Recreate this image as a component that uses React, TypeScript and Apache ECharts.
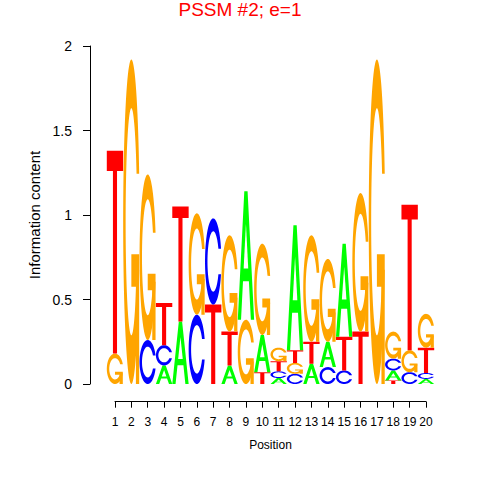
import React, { useEffect, useRef } from "react";
import * as echarts from "echarts";

const positions = ["1","2","3","4","5","6","7","8","9","10","11","12","13","14","15","16","17","18","19","20"];
const yTicks = ["0", "0.5", "1", "1.5", "2"];
const letters = ["A", "C", "G", "T"];
const letterColors = ["#00FF00", "#0000FF", "#FFA500", "#FF0000"];
const heightA = [0, 0, 0, 0.11, 0.37, 0, 0, 0.11, 0.76, 0.22, 0.035, 0.74, 0.12, 0.15, 0.55, 0, 0, 0.06, 0, 0.03];
const heightC = [0, 0, 0.26, 0.12, 0, 0.41, 0.51, 0, 0, 0, 0.04, 0.06, 0, 0.1, 0.08, 0, 0, 0.07, 0.07, 0.035];
const heightG = [0.18, 1.92, 0.98, 0, 0, 0.6, 0, 0.57, 0.38, 0.54, 0.08, 0.065, 0.63, 0.49, 0, 0.82, 1.92, 0.16, 0.13, 0.2];
const heightT = [1.2, 0, 0, 0.25, 0.68, 0, 0.47, 0.2, 0, 0.07, 0.06, 0.075, 0.13, 0, 0.2, 0.31, 0, 0.02, 0.86, 0.15];

const FONT = "'Liberation Sans', Arial, Helvetica, sans-serif";

function buildStacks() {
  const rows: number[][] = [];
  const all = [heightA, heightC, heightG, heightT];
  for (let i = 0; i < positions.length; i++) {
    const items = letters
      .map((_, li) => ({ li, h: all[li][i] }))
      .filter((d) => d.h > 0)
      .sort((a, b) => a.h - b.h);
    let base = 0;
    for (const it of items) {
      rows.push([Number(positions[i]), base, base + it.h, it.li]);
      base += it.h;
    }
  }
  return rows;
}

function arcPts(r: number, a0: number, a1: number, n: number) {
  const pts: number[][] = [];
  for (let k = 0; k <= n; k++) {
    const a = a0 + ((a1 - a0) * k) / n;
    pts.push([0.5 + r * Math.cos(a), 0.5 + r * Math.sin(a)]);
  }
  return pts;
}

function cShape() {
  const outer = arcPts(0.5, 0.3, 2 * Math.PI - 0.3, 80);
  const phi = Math.asin(0.148 / 0.35);
  const inner = arcPts(0.35, 2 * Math.PI - phi, phi, 80);
  return outer.concat(inner);
}

const shapes: Record<string, { fill: number[][][]; holes: number[][][] }> = {
  A: {
    fill: [[[0, 1], [0.4, 0], [0.6, 0], [1, 1], [0.8, 1], [0.68, 0.7], [0.32, 0.7], [0.2, 1]]],
    holes: [[[0.36, 0.6], [0.5, 0.25], [0.64, 0.6]]],
  },
  C: { fill: [cShape()], holes: [] },
  G: {
    fill: [cShape(), [[0.978, 0.6], [0.5, 0.6], [0.5, 0.7], [0.778, 0.7], [0.778, 1], [0.978, 1]]],
    holes: [],
  },
  T: {
    fill: [[[0, 0], [1, 0], [1, 0.1], [0.625, 0.1], [0.625, 1], [0.375, 1], [0.375, 0.1], [0, 0.1]]],
    holes: [],
  },
};

export default function App() {
  const ref = useRef<HTMLDivElement>(null);
  useEffect(() => {
    if (!ref.current) return;
    const chart = echarts.init(ref.current, undefined, { renderer: "svg" });
    const data = buildStacks();
    const option: any = {
      animation: false,
      backgroundColor: "#ffffff",
      title: {
        text: "PSSM #2; e=1",
        left: "center",
        top: 0,
        padding: 0,
        textStyle: { color: "#FF0000", fontSize: 19, fontWeight: "normal", fontFamily: FONT },
      },
      grid: [
        { left: 106.8, right: 45.8, top: 46, bottom: 96 },
        { left: 115, right: 54, top: 46, bottom: 78.3 },
      ],
      xAxis: [
        { gridIndex: 0, type: "value", min: 0.5, max: 20.5, show: false },
        {
          gridIndex: 1,
          type: "value",
          min: 1,
          max: 20,
          interval: 1,
          axisLine: { show: true, lineStyle: { color: "#000", width: 1 } },
          axisTick: { show: true, length: 6, lineStyle: { color: "#000" } },
          axisLabel: {
            fontSize: 12,
            margin: 14,
            color: "#000",
            fontFamily: FONT,
            formatter: (v: number) => positions[Math.round(v) - 1] ?? "",
          },
          splitLine: { show: false },
          name: "Position",
          nameLocation: "middle",
          nameGap: 37,
          nameTextStyle: { fontSize: 12, color: "#000", fontFamily: FONT },
        },
      ],
      yAxis: [
        {
          gridIndex: 0,
          type: "value",
          min: 0,
          max: 2,
          interval: 0.5,
          offset: 16.8,
          axisLine: { show: true, lineStyle: { color: "#000", width: 1 } },
          axisTick: { show: true, length: 7, lineStyle: { color: "#000" } },
          axisLabel: {
            fontSize: 14,
            margin: 18,
            color: "#000",
            fontFamily: FONT,
            formatter: (v: number) => yTicks[Math.round(v * 2)] ?? "",
          },
          splitLine: { show: false },
          name: "Information content",
          nameLocation: "middle",
          nameRotate: 90,
          nameGap: 46,
          nameTextStyle: { fontSize: 15, color: "#000", fontFamily: FONT },
        },
        { gridIndex: 1, type: "value", min: 0, max: 1, show: false },
      ],
      series: [
        {
          type: "custom",
          xAxisIndex: 0,
          yAxisIndex: 0,
          clip: false,
          silent: true,
          encode: { x: 0, y: [1, 2] },
          data,
          renderItem: (params: any, api: any) => {
            const x = api.value(0);
            const y0 = api.value(1);
            const y1 = api.value(2);
            const li = api.value(3);
            const p0 = api.coord([x - 0.5, y0]);
            const p1 = api.coord([x + 0.5, y1]);
            const left = p0[0];
            const w = p1[0] - p0[0];
            const top = p1[1];
            const h = p0[1] - p1[1];
            const map = (pts: number[][]) => pts.map(([u, v]) => [left + u * w, top + v * h]);
            const shp = shapes[letters[li]];
            const children: any[] = [];
            shp.fill.forEach((pts) =>
              children.push({ type: "polygon", shape: { points: map(pts) }, style: { fill: letterColors[li] } })
            );
            shp.holes.forEach((pts) =>
              children.push({ type: "polygon", shape: { points: map(pts) }, style: { fill: "#ffffff" } })
            );
            return { type: "group", children };
          },
        },
      ],
    };
    chart.setOption(option);
    return () => chart.dispose();
  }, []);
  return <div ref={ref} style={{ width: 480, height: 480, position: "absolute", left: 0, top: 0 }} />;
}
